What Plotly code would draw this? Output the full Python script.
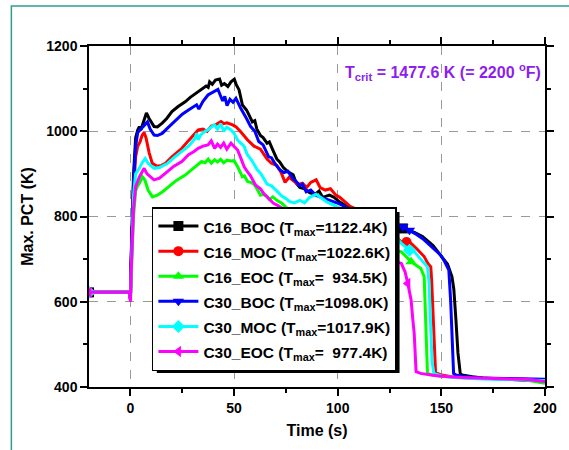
import plotly.graph_objects as go

# ---------------- data ----------------
t_c16_boc = [-20, -0.5, 0, 0.3, 1.5, 2.5, 3.5, 4.3, 5, 6, 7.7, 9, 11.4, 13, 15.3, 17.5, 20, 23, 26.4, 29,
             32.7, 35, 36.5, 37.5, 38.2, 39.5, 41, 43, 44, 45.3, 47, 48.5, 50.1, 51, 52.4, 54, 56, 57, 58.8, 60,
             61, 62.7, 64, 65.9, 67, 68.5, 70.6, 72, 73.8, 76, 78.5, 80, 81.7, 84, 86.4, 89, 91, 92.7, 96, 98.3,
             100.6, 103, 106, 110, 115, 120, 125, 128, 131.4, 135, 137, 140.9, 144, 146, 148.8, 151, 153, 155.1,
             156, 157, 158, 159.1, 160, 165, 170, 180, 190, 200]
T_c16_boc = [622, 622, 605, 700, 900, 985, 1003, 1011, 1003, 1020, 1043, 1030, 1011, 1010, 1019, 1030, 1046, 1058,
             1069, 1080, 1093, 1100, 1106, 1103, 1116, 1110, 1120, 1122.4, 1108, 1112, 1105, 1116, 1122, 1110, 1097,
             1062, 1050, 1040, 1022, 1025, 1005, 990, 985, 972, 975, 958, 935, 928, 915, 905, 898, 878, 868, 865,
             856, 852, 860, 845, 850, 845, 835, 828, 822, 812, 800, 790, 782, 777, 772, 765, 763, 753, 740, 732,
             714, 700, 688, 659, 630, 560, 480, 432, 428, 424, 421, 419, 416, 415]

t_c16_moc = [-20, -0.5, 0, 0.3, 1.5, 2.5, 3.5, 4.6, 5.6, 6.6, 7.5, 9, 10.5, 12.9, 15, 16.9, 20, 24.8, 28, 30.5,
             32.7, 35, 37, 39, 41, 43.7, 45, 46.5, 49.3, 51, 53.2, 56.4, 59.6, 62.7, 65.9, 68, 70.6, 72.5, 74.6,
             76.5, 78.5, 81, 83, 85, 87, 89.6, 91.5, 94, 96.5, 99.1, 101, 103.8, 106, 110, 115, 120, 125, 128,
             130.7, 133.2, 135.4, 138, 141.7, 143.5, 144.9, 145.3, 146, 146.6, 147.2, 150, 155, 160, 170, 180,
             190, 200]
T_c16_moc = [622, 622, 605, 680, 860, 940, 965, 975, 990, 997, 985, 950, 925, 918, 920, 925, 940, 960, 978, 992,
             1003, 1005, 1000, 1012, 1015, 1022.6, 1018, 1020, 1015, 1010, 999, 980, 965, 958, 935, 925, 920, 905,
             880, 892, 885, 875, 878, 868, 880, 886, 868, 862, 865, 850, 845, 832, 824, 815, 800, 782, 762, 750,
             741, 740, 737, 725, 706, 690, 682, 651, 560, 480, 434, 428, 424, 422, 420, 419, 418, 416]

t_c16_eoc = [-20, -0.5, 0, 0.3, 1.5, 2.5, 3.5, 4.3, 5.8, 7, 8.5, 10.6, 13, 15.5, 18.5, 22, 26.4, 30, 34.3, 36,
             37.5, 39, 40.6, 42, 43.5, 45, 46.5, 48.5, 50, 51.7, 53, 54, 55, 56.5, 58, 59.6, 61, 62.7, 64, 65.9,
             67, 68.7, 70.6, 73, 75, 80, 90, 100, 110, 120, 126, 130.7, 133, 135.4, 138, 140.1, 141.7, 142.3,
             142.8, 143.3, 146, 150, 160, 170, 180, 190, 200]
T_c16_eoc = [622, 622, 605, 660, 800, 860, 872, 878, 893, 885, 862, 846, 850, 858, 870, 884, 897, 912, 929, 926,
             934.5, 925, 933, 928, 934, 926, 932, 930, 931, 917, 905, 893, 895, 882, 880, 876, 865, 850, 852, 847,
             840, 846, 838, 831, 822, 805, 785, 765, 748, 732, 722, 717, 705, 694, 685, 678, 659, 580, 480, 432,
             428, 425, 422, 420, 419, 417, 409]

t_c30_boc = [-20, -0.5, 0, 0.3, 1.5, 2.5, 3.5, 5, 6.5, 8.2, 9.5, 11.4, 13, 15.3, 18, 21.7, 25, 28, 30.5, 31.9,
             33, 35, 37.4, 39, 40.5, 42.2, 43.3, 44.5, 45.5, 46.6, 48, 49.5, 50.9, 52, 53.2, 56, 58, 60, 61.9, 64,
             66.7, 68, 70, 72.2, 74, 76, 78.5, 80, 81.7, 83, 84.8, 87, 89.4, 92, 95.9, 98, 100.6, 104, 108, 113,
             118, 123, 128, 131.4, 134.6, 138, 141, 144, 147, 149.6, 151.5, 153, 153.6, 154.5, 155.2, 155.9, 157,
             160, 165, 170, 180, 190, 200]
T_c30_boc = [622, 622, 605, 690, 880, 965, 997, 1005, 1015, 1022, 1005, 991, 990, 995, 1008, 1026, 1040, 1050,
             1057, 1062, 1052, 1070, 1085, 1090, 1094, 1098, 1085, 1071, 1082, 1060, 1075, 1068, 1077, 1065, 1054,
             1030, 1011, 1000, 976, 968, 940, 938, 922, 909, 903, 906, 888, 882, 872, 876, 858, 862, 850, 845, 838,
             835, 830, 822, 815, 805, 795, 787, 780, 776, 768, 758, 748, 735, 722, 710, 695, 680, 674, 600, 500,
             432, 428, 425, 423, 421, 420, 419, 418]

t_c30_moc = [-20, -0.5, 0, 0.3, 1.5, 2.5, 4.3, 5.5, 7.1, 8.5, 11.4, 14, 18, 21, 24.8, 28, 31, 32, 32.7, 34, 36,
             37.4, 39, 40.5, 42, 43.5, 45, 46.5, 48.5, 50, 51.7, 54.8, 56.4, 58.5, 61.1, 63, 65.9, 68, 70.6, 73,
             75, 76.9, 79, 81.7, 84, 86.5, 89.6, 92, 94.5, 97.5, 100, 105, 112, 118, 124, 128, 130.7, 134.6, 137,
             140, 143.3, 144, 144.8, 145.5, 146.4, 150, 155, 160, 170, 180, 190, 200]
T_c30_moc = [622, 622, 605, 670, 850, 900, 913, 925, 936, 925, 913, 915, 925, 938, 952, 965, 982, 995, 980, 992,
             1000, 1003, 1010, 1015, 1005, 1017.9, 1000, 1010, 1003, 995, 979, 965, 945, 932, 910, 900, 876, 872,
             860, 848, 842, 835, 832, 838, 832, 845, 852, 843, 835, 828, 822, 810, 795, 780, 765, 752, 737, 721,
             717, 700, 682, 650, 540, 460, 432, 426, 423, 421, 419, 418, 417, 415]

t_c30_eoc = [-20, -0.5, 0, 0.3, 1.5, 2.5, 4.3, 5.5, 6.6, 8, 11.4, 14, 18, 21, 24.8, 28, 30.5, 32.7, 35, 37.4, 39,
             40.6, 42, 43.5, 45, 46.5, 48.5, 50, 51.7, 53, 54.8, 56.4, 58, 60.3, 62.7, 64.3, 66, 69, 71, 73, 80,
             90, 100, 110, 120, 126, 130.7, 131.4, 132.5, 133.8, 135.4, 136.2, 136.9, 137.8, 140, 145, 150, 160,
             170, 180, 190, 200]
T_c30_eoc = [622, 622, 600, 660, 820, 870, 893, 905, 913, 900, 886, 890, 905, 918, 929, 945, 952, 960, 965, 968,
             977.4, 960, 970, 962, 972, 958, 972, 965, 956, 940, 917, 905, 895, 874, 865, 854, 845, 831, 826, 820,
             795, 770, 745, 725, 708, 698, 690, 682, 670, 643, 604, 560, 526, 436, 432, 428, 425, 422, 421, 420,
             418, 413]

series_names = ["C16_BOC", "C16_MOC", "C16_EOC", "C30_BOC", "C30_MOC", "C30_EOC"]
tmax_labels = ["=1122.4K", "=1022.6K", "=\u00a0\u00a0934.5K", "=1098.0K", "=1017.9K", "=\u00a0\u00a0977.4K"]
marker_times = [[-20, 131.4], [-20, 133.2], [-20, 135.4], [-20, 131.4, 134.6], [-20, 134.6], [-20, 133.8]]

x_ticks = [0, 50, 100, 150, 200]
x_minor = [25, 75, 125, 175]
y_ticks = [400, 600, 800, 1000, 1200]
y_minor = [500, 700, 900, 1100]

# ---------------- styles ----------------
colors = ["#000000", "#FF0000", "#00FF00", "#0000FF", "#00FFFF", "#FF00FF"]
symbols = ["square", "circle", "triangle-up", "triangle-down", "diamond", "triangle-left"]
t_all = [t_c16_boc, t_c16_moc, t_c16_eoc, t_c30_boc, t_c30_moc, t_c30_eoc]
T_all = [T_c16_boc, T_c16_moc, T_c16_eoc, T_c30_boc, T_c30_moc, T_c30_eoc]

FONT = "Liberation Sans, Arial, sans-serif"
fig = go.Figure()

for i in range(6):
    t, T = t_all[i], T_all[i]
    assert len(t) == len(T), series_names[i]
    fig.add_trace(go.Scatter(x=t, y=T, mode="lines", line=dict(color=colors[i], width=3),
                             showlegend=False, hoverinfo="skip"))
    mx = [a for a in t if a in marker_times[i]]
    my = [b for a, b in zip(t, T) if a in marker_times[i]]
    fig.add_trace(go.Scatter(x=mx, y=my, mode="markers",
                             marker=dict(symbol=symbols[i], size=10, color=colors[i]),
                             showlegend=False, hoverinfo="skip"))

for i in range(6):
    label = f'<span style="font-size:15.5px">{series_names[i]} (T<sub>max</sub>{tmax_labels[i]})</span>'
    fig.add_trace(go.Scatter(x=[None], y=[None], mode="lines+markers", name=label,
                             line=dict(color=colors[i], width=3),
                             marker=dict(symbol=symbols[i], size=10, color=colors[i])))

def px_x(p):
    return (p - 89) / 464.0

def px_y(p):
    return (387 - p) / 341.0

axis_common = dict(showline=True, linecolor="black", linewidth=1.5, mirror="allticks",
                   ticks="outside", ticklen=7, tickwidth=1.5, tickcolor="black",
                   showgrid=True, gridcolor="#9a9a9a", griddash="dash", gridwidth=1,
                   zeroline=False,
                   tickfont=dict(family=FONT, size=14, color="black", weight="bold"))

fig.update_xaxes(range=[-20, 200], tickvals=x_ticks,
                 minor=dict(tickvals=x_minor, ticks="outside", ticklen=4, tickwidth=1.5,
                            tickcolor="black", showgrid=False),
                 title=dict(text="Time (s)", font=dict(family=FONT, size=16, weight="bold", color="black"),
                            standoff=10),
                 **axis_common)
fig.update_yaxes(range=[400, 1200], tickvals=y_ticks,
                 minor=dict(tickvals=y_minor, ticks="outside", ticklen=4, tickwidth=1.5,
                            tickcolor="black", showgrid=False),
                 title=dict(text="Max. PCT (K)", font=dict(family=FONT, size=16, weight="bold", color="black"),
                            standoff=9),
                 **axis_common)

fig.update_layout(
    width=569, height=450,
    margin=dict(l=89, r=16, t=46, b=63),
    paper_bgcolor="white", plot_bgcolor="white",
    font=dict(family=FONT, color="black"),
    legend=dict(x=px_x(153), y=px_y(207), xanchor="left", yanchor="top",
                bgcolor="white", bordercolor="black", borderwidth=1.5,
                font=dict(family=FONT, size=17, weight="bold", color="black"),
                itemwidth=40, tracegroupgap=0),
    annotations=[dict(text="T<sub>crit</sub> = 1477.6 K (= 2200 <sup>o</sup>F)",
                      x=px_x(449), y=px_y(72), xref="paper", yref="paper",
                      xanchor="center", yanchor="middle", showarrow=False,
                      font=dict(family=FONT, size=16, weight="bold", color="#8C1EF0"))],
    shapes=[
        dict(type="rect", xref="paper", yref="paper", layer="above",
             x0=px_x(158), x1=px_x(405), y0=px_y(373), y1=px_y(212),
             fillcolor="black", line=dict(width=0)),
        dict(type="rect", xref="paper", yref="paper", layer="below",
             x0=px_x(10), x1=px_x(700), y0=px_y(600), y1=px_y(6),
             fillcolor="rgba(0,0,0,0)", line=dict(color="#2E9E8F", width=1.5)),
    ],
)

fig.write_html("out.html")
